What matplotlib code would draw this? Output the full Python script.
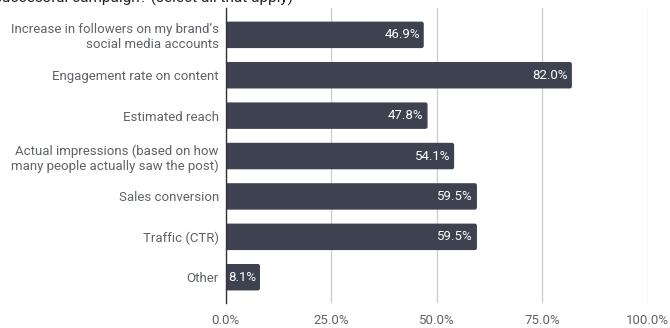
import numpy as np
import matplotlib.pyplot as plt
from matplotlib.patches import FancyBboxPatch

categories = [
    "Increase in followers on my brand\u2019s\nsocial media accounts",
    "Engagement rate on content",
    "Estimated reach",
    "Actual impressions (based on how\nmany people actually saw the post)",
    "Sales conversion",
    "Traffic (CTR)",
    "Other",
]
values = [46.9, 82.0, 47.8, 54.1, 59.5, 59.5, 8.1]
xticks = [0, 25, 50, 75, 100]

bar_color = "#3d4150"
text_color = "#5f6368"

plt.rcParams['font.family'] = ['Roboto', 'DejaVu Sans']

fig = plt.figure(figsize=(6.7, 3.28), dpi=100)
ax = fig.add_axes([0.337, 0.076, 0.630, 0.899])

y = np.arange(len(categories))
bars = ax.barh(y, values, height=0.655, color=bar_color, zorder=3)

# swap the square bars for ones with slightly rounded corners
for b in bars:
    b.set_visible(False)
    rb = FancyBboxPatch((b.get_x(), b.get_y()), b.get_width(), b.get_height(),
                        boxstyle="round,pad=0,rounding_size=0.5",
                        mutation_aspect=0.11, facecolor=bar_color,
                        edgecolor="none", zorder=3)
    ax.add_patch(rb)

for yi, v in zip(y, values):
    ax.text(v - 0.9, yi, f"{v:.1f}%", color="white", ha="right", va="center",
            fontsize=9.5, zorder=4)

ax.set_xlim(0, 100)
ax.set_ylim(len(categories) - 0.5 + 0.14, -0.5 - 0.16)
ax.set_yticks(y)
ax.set_yticklabels(categories, fontsize=9.5, color=text_color, linespacing=1.15)
ax.set_xticks(xticks)
ax.set_xticklabels([f"{t:.1f}%" for t in xticks], fontsize=9.5, color=text_color)
ax.tick_params(axis='both', length=0, pad=5)
ax.tick_params(axis='x', pad=8)

ax.grid(axis='x', color="#cccccc", linewidth=0.9, zorder=0)
for side in ['top', 'right', 'bottom']:
    ax.spines[side].set_visible(False)
ax.spines['left'].set_color("#333333")
ax.spines['left'].set_linewidth(1.0)
ax.spines['left'].set_zorder(5)

# heading runs off the top edge of the figure
fig.text(-0.009, 0.991, "successful campaign? (select all that apply)",
         fontsize=11.1, color="#222222", ha="left", va="baseline")

fig.savefig("out.png", dpi=100)
